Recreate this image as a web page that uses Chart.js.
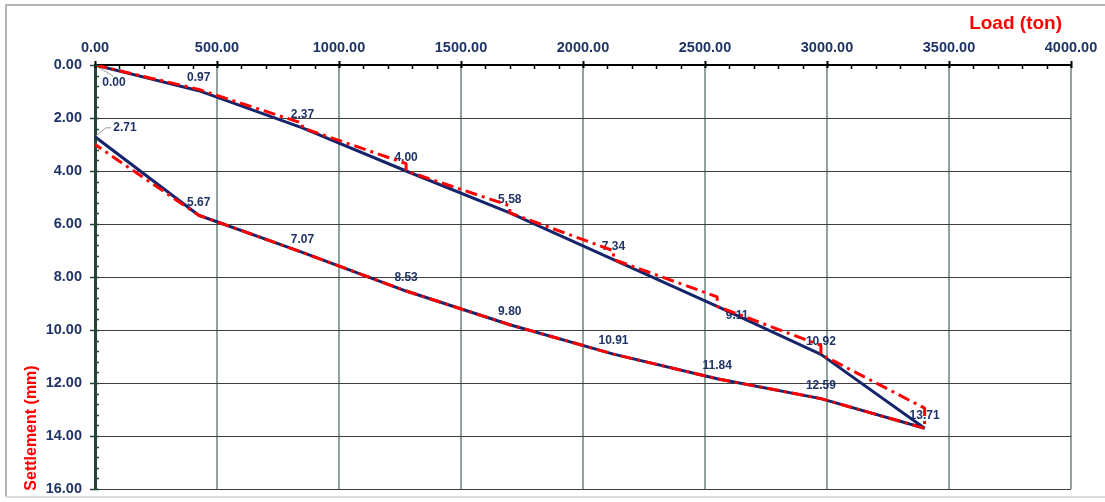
<!DOCTYPE html>
<html>
<head>
<meta charset="utf-8">
<script src="https://cdn.jsdelivr.net/npm/chart.js@4.4.0/dist/chart.umd.min.js"></script>
<style>
    html, body { margin: 0; padding: 0; background: #fff; }
    #wrap { width: 1105px; height: 502px; position: relative; }
</style>
</head>
<body>
<div id="wrap"><canvas id="loadChart" width="1105" height="502"></canvas></div>
<script>
// Load test readings (ton / mm)
const loadingLoads = [0, 425, 850, 1275, 1700, 2125, 2550, 2975, 3400];
const loadingSettlement = [0.00, 0.97, 2.37, 4.00, 5.58, 7.34, 9.11, 10.92, 13.71];
const unloadingLoads = [2975, 2550, 2125, 1700, 1275, 850, 425, 0];
const unloadingSettlement = [12.59, 11.84, 10.91, 9.80, 8.53, 7.07, 5.67, 2.71];

// Red dash-dot trace: reading at start and end of every hold
const holdLoads = [0, 425, 850, 850, 1275, 1275, 1700, 1700, 2125, 2125, 2550, 2550, 2975, 2975, 3400, 3400,
    2975, 2550, 2125, 1700, 1275, 850, 425, 0];
const holdSettlement = [0.00, 0.92, 2.20, 2.37, 3.72, 4.00, 5.31, 5.58, 7.01, 7.34, 8.75, 9.11, 10.58, 10.92, 12.95, 13.71,
    12.59, 11.84, 10.91, 9.80, 8.53, 7.07, 5.67, 3.00];

// Axis ticks
const loadTicks = [0, 500, 1000, 1500, 2000, 2500, 3000, 3500, 4000];
const settlementTicks = [0, 2, 4, 6, 8, 10, 12, 14, 16];

const COLORS = {
    navy: '#15256b',
    text: '#1f3366',
    red: '#ff0000',
    vGrid: '#8fa39b',
    hGrid: '#3f3f3f',
    xAxis: '#000000',
    yAxis: '#24453a',
    frame: '#b4b4b4',
    frameLight: '#dedede',
    leader: '#9a9a9a'
};

const FONT = "'Liberation Sans', Arial, sans-serif";

const toPoints = (xs, ys) => xs.map((x, i) => ({ x: x, y: ys[i] }));

// label placement tweaks (index into navy dataset)
const labelNudge = {
    0: { dx: 19, dy: 18, leader: 'diag' },
    6: { dx: 20, dy: 9 },
    16: { dx: 30, dy: -9, leader: 'elbow' }
};

const pointLabels = {
    id: 'pointLabels',
    beforeDatasetsDraw(chart) {
        const ctx = chart.ctx;
        const meta = chart.getDatasetMeta(1);
        const data = chart.data.datasets[1].data;
        ctx.save();
        ctx.font = 'bold 12px ' + FONT;
        ctx.fillStyle = COLORS.text;
        ctx.textAlign = 'center';
        ctx.textBaseline = 'middle';
        meta.data.forEach((pt, i) => {
            const n = labelNudge[i] || { dx: 0, dy: -13 };
            const lx = pt.x + n.dx;
            const ly = pt.y + n.dy;
            if (n.leader) {
                ctx.strokeStyle = COLORS.leader;
                ctx.lineWidth = 1;
                ctx.beginPath();
                if (n.leader === 'diag') {
                    ctx.moveTo(pt.x + 3, pt.y + 2);
                    ctx.lineTo(lx - 1, ly - 7);
                } else {
                    ctx.moveTo(pt.x + 1, pt.y - 1);
                    ctx.lineTo(lx - 19, ly);
                    ctx.lineTo(lx - 14, ly);
                }
                ctx.stroke();
            }
            ctx.fillText(data[i].y.toFixed(2), lx, ly);
        });
        ctx.restore();
    }
};

const frameAndTicks = {
    id: 'frameAndTicks',
    beforeDraw(chart) {
        const ctx = chart.ctx;
        ctx.save();
        ctx.fillStyle = '#fff';
        ctx.fillRect(0, 0, chart.width, chart.height);
        // outer frame (right edge falls outside the picture)
        ctx.lineWidth = 2;
        ctx.strokeStyle = COLORS.frame;
        ctx.beginPath();
        ctx.moveTo(chart.width + 2, 5);
        ctx.lineTo(6, 5);
        ctx.lineTo(6, 497);
        ctx.stroke();
        ctx.strokeStyle = COLORS.frameLight;
        ctx.beginPath();
        ctx.moveTo(6, 497);
        ctx.lineTo(chart.width + 2, 497);
        ctx.stroke();
        ctx.restore();
    },
    afterDraw(chart) {
        const { ctx, chartArea: a, scales: { x, y } } = chart;
        ctx.save();

        // top axis: minor every 100, major every 500
        ctx.strokeStyle = COLORS.xAxis;
        for (let v = 0; v <= 4000; v += 100) {
            const px = Math.round(x.getPixelForValue(v)) + 0.5;
            const major = v % 500 === 0;
            ctx.lineWidth = major ? 2 : 1.5;
            ctx.beginPath();
            ctx.moveTo(px, major ? a.top - 4 : a.top);
            ctx.lineTo(px, major ? a.top + 3 : a.top + 4);
            ctx.stroke();
        }

        // left axis: minor every 0.4, major every 2
        ctx.strokeStyle = COLORS.yAxis;
        for (let k = 0; k <= 40; k++) {
            const v = k * 0.4;
            const py = Math.round(y.getPixelForValue(v)) + 0.5;
            const major = k % 5 === 0;
            ctx.lineWidth = 1.5;
            ctx.beginPath();
            ctx.moveTo(major ? a.left - 5 : a.left, py);
            ctx.lineTo(a.left + 4, py);
            ctx.stroke();
        }

        // axis titles
        ctx.fillStyle = COLORS.red;
        ctx.font = 'bold 19px ' + FONT;
        ctx.textAlign = 'right';
        ctx.textBaseline = 'middle';
        ctx.fillText('Load (ton)', 1062, 24);

        ctx.font = 'bold 16px ' + FONT;
        ctx.translate(32, 428);
        ctx.rotate(-Math.PI / 2);
        ctx.textAlign = 'center';
        ctx.fillText('Settlement (mm)', 0, 0);
        ctx.restore();
    }
};

function initChart() {
    const ctx = document.getElementById('loadChart').getContext('2d');
    return new Chart(ctx, {
        type: 'scatter',
        data: {
            datasets: [
                {
                    label: 'Hold readings',
                    data: toPoints(holdLoads, holdSettlement),
                    showLine: true,
                    borderColor: COLORS.red,
                    borderWidth: 3,
                    borderDash: [12, 5, 3, 5],
                    borderJoinStyle: 'bevel',
                    pointRadius: 0,
                    tension: 0,
                    order: 0
                },
                {
                    label: 'Settlement',
                    data: toPoints(loadingLoads, loadingSettlement)
                        .concat(toPoints(unloadingLoads, unloadingSettlement)),
                    showLine: true,
                    borderColor: COLORS.navy,
                    borderWidth: 3,
                    borderJoinStyle: 'bevel',
                    pointRadius: 0,
                    tension: 0,
                    order: 1
                }
            ]
        },
        options: {
            responsive: false,
            animation: false,
            layout: { padding: { left: 0, top: 0, right: 34, bottom: 13 } },
            plugins: {
                legend: { display: false },
                tooltip: { enabled: false }
            },
            scales: {
                x: {
                    type: 'linear',
                    position: 'top',
                    min: 0,
                    max: 4000,
                    afterBuildTicks: s => { s.ticks = loadTicks.map(v => ({ value: v })); },
                    afterFit: s => { s.height = 65; s.paddingLeft = 0; s.paddingRight = 0; },
                    grid: { color: COLORS.vGrid, lineWidth: 2, drawTicks: false },
                    border: { display: true, color: COLORS.xAxis, width: 2 },
                    ticks: {
                        color: COLORS.text,
                        font: { family: FONT, size: 14.5, weight: 'bold' },
                        padding: 8,
                        maxRotation: 0,
                        callback: v => v.toFixed(2)
                    }
                },
                y: {
                    type: 'linear',
                    reverse: true,
                    min: 0,
                    max: 16,
                    afterBuildTicks: s => { s.ticks = settlementTicks.map(v => ({ value: v })); },
                    afterFit: s => { s.width = 95; s.paddingTop = 0; s.paddingBottom = 0; },
                    grid: { color: COLORS.hGrid, lineWidth: 1, drawTicks: false },
                    border: { display: true, color: COLORS.yAxis, width: 3 },
                    ticks: {
                        color: COLORS.text,
                        font: { family: FONT, size: 14.5, weight: 'bold' },
                        padding: 13,
                        callback: v => v.toFixed(2)
                    }
                }
            }
        },
        plugins: [frameAndTicks, pointLabels]
    });
}

document.addEventListener('DOMContentLoaded', initChart);
</script>
</body>
</html>
